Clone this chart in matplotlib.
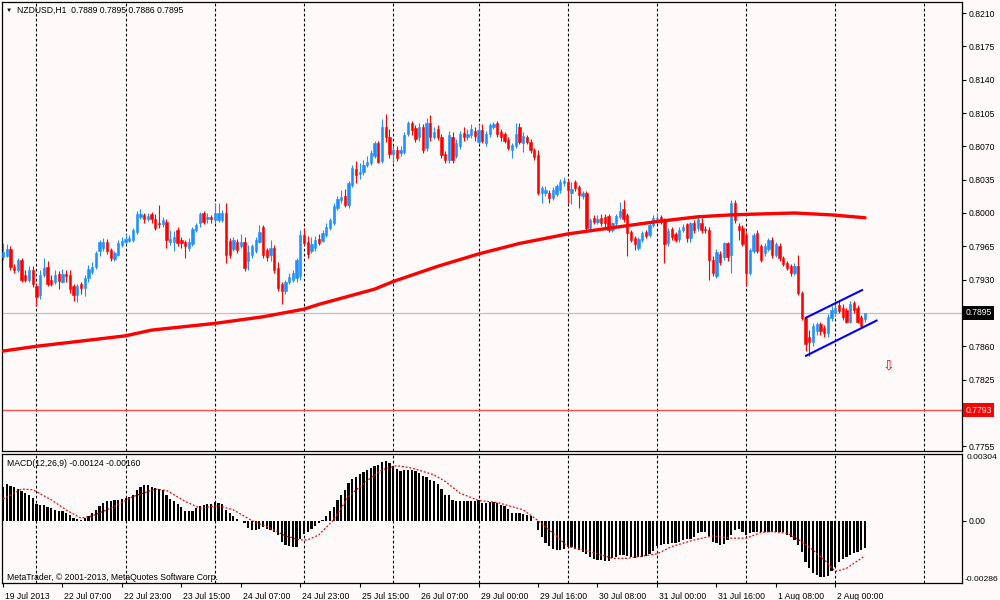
import matplotlib
matplotlib.use("Agg")
import matplotlib.pyplot as plt
import matplotlib.transforms as mtransforms
import numpy as np

plt.rcParams.update({
    "font.family": ["Liberation Sans", "DejaVu Sans"],
    "font.size": 6.2,
    "figure.facecolor": "#fffafa",
    "axes.facecolor": "#fffafa",
    "savefig.facecolor": "#fffafa",
    "axes.edgecolor": "black",
})

# NZDUSD H1, 19 Jul 2013 14:00 .. 2 Aug 2013 08:00, prices in pips (x 1e-4)
opens = [
    7954, 7955, 7962, 7943, 7940, 7951, 7935, 7930, 7940, 7923,
    7914, 7935, 7943, 7930, 7928, 7936, 7928, 7936, 7935, 7923,
    7914, 7925, 7921, 7932, 7938, 7943, 7960, 7963, 7970, 7961,
    7952, 7956, 7966, 7969, 7971, 7972, 7980, 7996, 7998, 7994,
    7999, 7994, 7990, 7988, 7991, 7970, 7970, 7982, 7972, 7970,
    7963, 7967, 7982, 7989, 8000, 7994, 7996, 7993, 7993, 7993,
    8000, 7971, 7962, 7970, 7965, 7970, 7950, 7956, 7960, 7970,
    7985, 7961, 7956, 7963, 7942, 7925, 7918, 7927, 7930, 7932,
    7934, 7977, 7970, 7960, 7963, 7973, 7971, 7977, 7984, 7989,
    8005, 8014, 8018, 8008, 8029, 8046, 8041, 8043, 8050, 8052,
    8060, 8073, 8055, 8090, 8080, 8062, 8066, 8063, 8064, 8083,
    8094, 8089, 8080, 8090, 8068, 8094, 8080, 8088, 8080, 8062,
    8056, 8080, 8060, 8070, 8084, 8080, 8082, 8086, 8075, 8087,
    8073, 8083, 8090, 8094, 8085, 8083, 8077, 8066, 8070, 8090,
    8073, 8080, 8075, 8066, 8061, 8021, 8021, 8021, 8016, 8020,
    8024, 8031, 8033, 8021, 8033, 8027, 8018, 8021, 7984, 7995,
    7991, 7995, 7996, 7997, 7982, 7989, 7996, 8004, 7998, 7980,
    7974, 7963, 7972, 7980, 7977, 7987, 7994, 7996, 7993, 7968,
    7983, 7978, 7973, 7982, 7988, 7974, 7989, 7984, 7990, 7983,
    7982, 7951, 7934, 7957, 7954, 7968, 7956, 8010, 7986, 7984,
    7977, 7937, 7960, 7979, 7965, 7958, 7962, 7972, 7956, 7965,
    7953, 7947, 7944, 7937, 7944, 7916, 7890, 7870, 7865, 7876,
    7883, 7879, 7874, 7890, 7895, 7903, 7900, 7898, 7886, 7905,
    7900, 7891, 7889,
]
highs = [
    7968, 7967, 7965, 7946, 7953, 7953, 7940, 7944, 7944, 7925,
    7940, 7953, 7950, 7935, 7940, 7939, 7941, 7940, 7940, 7925,
    7925, 7928, 7935, 7945, 7948, 7960, 7972, 7974, 7973, 7963,
    7960, 7972, 7975, 7978, 7977, 7984, 8002, 8004, 8000, 8000,
    8001, 7999, 8008, 7996, 7994, 7982, 7981, 7985, 7975, 7972,
    7974, 7985, 7990, 8001, 8002, 8000, 7998, 8010, 8011, 8003,
    8011, 7974, 7975, 7973, 7978, 7975, 7966, 7967, 7975, 7987,
    7987, 7963, 7972, 7966, 7948, 7927, 7930, 7937, 7940, 7953,
    7982, 7984, 7976, 7975, 7976, 7978, 7982, 7990, 7995, 8010,
    8018, 8024, 8025, 8034, 8050, 8055, 8052, 8056, 8060, 8066,
    8076, 8076, 8099, 8104, 8088, 8070, 8070, 8070, 8085, 8097,
    8097, 8092, 8095, 8093, 8100, 8103, 8090, 8092, 8083, 8065,
    8086, 8085, 8078, 8086, 8090, 8088, 8093, 8090, 8093, 8093,
    8086, 8095, 8096, 8097, 8088, 8085, 8080, 8074, 8094, 8095,
    8085, 8082, 8078, 8068, 8066, 8028, 8028, 8024, 8027, 8030,
    8036, 8038, 8036, 8033, 8035, 8029, 8023, 8023, 7995, 7998,
    7998, 7999, 7999, 7999, 7991, 7999, 8012, 8014, 8000, 7982,
    7976, 7975, 7981, 7982, 7990, 7998, 8000, 7998, 7995, 7984,
    7985, 7980, 7985, 7988, 7990, 7991, 7993, 7996, 7995, 7986,
    7985, 7955, 7962, 7960, 7970, 7970, 8014, 8014, 7990, 7987,
    7980, 7963, 7979, 7982, 7967, 7968, 7974, 7975, 7970, 7968,
    7955, 7950, 7946, 7947, 7956, 7918, 7892, 7877, 7884, 7886,
    7886, 7882, 7894, 7902, 7904, 7908, 7904, 7900, 7908, 7908,
    7903, 7893, 7895,
]
lows = [
    7951, 7954, 7940, 7937, 7938, 7928, 7927, 7928, 7922, 7902,
    7910, 7933, 7923, 7923, 7925, 7920, 7926, 7928, 7916, 7908,
    7906, 7915, 7913, 7928, 7936, 7941, 7955, 7960, 7957, 7950,
    7950, 7955, 7964, 7967, 7969, 7970, 7978, 7994, 7990, 7992,
    7990, 7982, 7984, 7985, 7963, 7966, 7960, 7965, 7963, 7953,
    7960, 7965, 7980, 7985, 7988, 7990, 7990, 7990, 7991, 7991,
    7947, 7953, 7960, 7958, 7963, 7939, 7940, 7953, 7958, 7968,
    7953, 7950, 7950, 7937, 7918, 7904, 7915, 7925, 7928, 7928,
    7930, 7966, 7953, 7958, 7960, 7966, 7969, 7975, 7982, 7987,
    8003, 8010, 8006, 8005, 8027, 8032, 8036, 8040, 8048, 8050,
    8058, 8052, 8053, 8075, 8058, 8052, 8055, 8060, 8062, 8081,
    8082, 8075, 8076, 8063, 8065, 8076, 8078, 8077, 8058, 8052,
    8053, 8052, 8058, 8067, 8076, 8077, 8079, 8076, 8072, 8073,
    8070, 8080, 8088, 8080, 8076, 8073, 8066, 8058, 8068, 8072,
    8064, 8072, 8063, 8056, 8019, 8010, 8018, 8011, 8014, 8018,
    8021, 8028, 8010, 8009, 8023, 8005, 8015, 7982, 7982, 7988,
    7988, 7986, 7985, 7980, 7980, 7986, 7994, 7991, 7955, 7969,
    7961, 7961, 7970, 7974, 7975, 7985, 7990, 7988, 7947, 7965,
    7972, 7969, 7970, 7980, 7970, 7970, 7979, 7981, 7979, 7979,
    7930, 7934, 7932, 7945, 7951, 7950, 7937, 7990, 7972, 7965,
    7923, 7935, 7958, 7958, 7949, 7955, 7960, 7953, 7954, 7950,
    7944, 7940, 7934, 7935, 7914, 7888, 7855, 7850, 7860, 7872,
    7872, 7870, 7870, 7887, 7892, 7895, 7888, 7884, 7884, 7895,
    7884, 7879, 7886,
]
closes = [
    7959, 7962, 7943, 7940, 7951, 7930, 7930, 7940, 7925, 7912,
    7935, 7942, 7925, 7925, 7935, 7929, 7936, 7934, 7920, 7914,
    7923, 7921, 7932, 7941, 7943, 7958, 7970, 7970, 7960, 7953,
    7958, 7968, 7971, 7973, 7974, 7982, 7999, 7999, 7994, 7997,
    7994, 7984, 7988, 7993, 7972, 7973, 7975, 7968, 7968, 7965,
    7970, 7983, 7987, 7999, 7991, 7996, 7994, 8000, 8000, 8000,
    7956, 7956, 7972, 7961, 7970, 7942, 7959, 7965, 7972, 7980,
    7956, 7954, 7963, 7940, 7921, 7918, 7928, 7933, 7937, 7951,
    7977, 7968, 7957, 7967, 7972, 7968, 7979, 7985, 7993, 8007,
    8015, 8017, 8008, 8031, 8047, 8040, 8043, 8050, 8054, 8063,
    8073, 8054, 8090, 8080, 8062, 8066, 8058, 8066, 8082, 8094,
    8087, 8078, 8090, 8066, 8095, 8080, 8085, 8080, 8061, 8056,
    8082, 8056, 8074, 8083, 8080, 8083, 8088, 8081, 8087, 8076,
    8083, 8092, 8093, 8083, 8080, 8076, 8068, 8071, 8083, 8075,
    8081, 8075, 8066, 8059, 8021, 8026, 8024, 8016, 8024, 8028,
    8033, 8034, 8024, 8025, 8026, 8019, 8021, 7984, 7993, 7991,
    7994, 7989, 7989, 7982, 7989, 7997, 8002, 7994, 7979, 7972,
    7967, 7973, 7979, 7976, 7987, 7995, 7995, 7991, 7967, 7981,
    7975, 7972, 7982, 7985, 7974, 7989, 7982, 7994, 7982, 7982,
    7951, 7937, 7959, 7949, 7968, 7954, 8010, 7993, 7982, 7967,
    7937, 7961, 7977, 7960, 7951, 7965, 7972, 7956, 7967, 7953,
    7946, 7942, 7937, 7944, 7916, 7890, 7862, 7865, 7881, 7883,
    7876, 7874, 7891, 7898, 7900, 7897, 7891, 7886, 7904, 7898,
    7886, 7881, 7895,
]

# 200 period moving average, read at some bars
ma_idx = [0, 9, 20, 33, 40, 57, 70, 81, 85, 100, 105, 117, 128, 139,
          152, 163, 176, 187, 196, 204, 213, 223, 232]
ma_val = [7855, 7860, 7865, 7871, 7877, 7884, 7891, 7899, 7904, 7920, 7928,
          7944, 7957, 7968, 7978, 7984, 7991, 7996, 7998, 7999, 8000, 7998,
          7995]

# MACD(12,26,9) histogram, in 1e-5
macd = [
    152, 167, 159, 153, 144, 133, 126, 118, 103, 77,
    72, 72, 62, 57, 49, 46, 45, 37, 27, 11,
    7, 4, 11, 22, 34, 49, 65, 80, 88, 88,
    92, 95, 98, 103, 106, 118, 138, 153, 161, 164,
    153, 148, 144, 138, 118, 98, 88, 77, 62, 46,
    42, 46, 57, 68, 72, 75, 77, 83, 80, 77,
    49, 34, 22, 7, -4, -9, -34, -45, -45, -39,
    -30, -39, -45, -50, -65, -96, -111, -118, -122, -122,
    -85, -60, -50, -39, -24, -9, 1, 22, 42, 62,
    95, 118, 141, 171, 189, 201, 214, 220, 229, 240,
    251, 255, 266, 270, 263, 251, 235, 225, 229, 232,
    229, 225, 217, 202, 198, 186, 179, 168, 144, 118,
    118, 95, 88, 88, 88, 88, 88, 88, 92, 80,
    80, 83, 83, 80, 72, 65, 52, 34, 34, 34,
    31, 27, 19, 0, -45, -76, -100, -118, -130, -134,
    -134, -130, -122, -122, -130, -134, -141, -152, -167, -176,
    -179, -179, -182, -182, -172, -164, -157, -157, -161, -167,
    -172, -167, -164, -161, -152, -137, -118, -111, -108, -106,
    -100, -100, -96, -88, -85, -85, -76, -57, -50, -50,
    -70, -96, -103, -111, -106, -88, -65, -42, -39, -50,
    -65, -57, -50, -50, -50, -50, -50, -50, -50, -50,
    -54, -65, -76, -88, -111, -141, -187, -218, -237, -248,
    -256, -259, -252, -232, -210, -187, -176, -167, -157, -146,
    -141, -134, -124,
]
sig_idx = [0, 5, 8, 13, 17, 21, 24, 29, 35, 41, 44, 49, 53, 58, 62, 67, 72,
           76, 80, 82, 85, 89, 93, 98, 102, 106, 110, 116, 119, 123, 128, 133,
           140, 144, 148, 152, 158, 164, 168, 171, 176, 180, 186, 191, 196,
           200, 204, 207, 211, 214, 218, 222, 224, 227, 231, 232]
sig_val = [98, 144, 141, 95, 49, 11, 22, 57, 110, 144, 138, 88, 57, 68, 49, 0,
           -34, -70, -88, -88, -65, 4, 110, 183, 232, 251, 240, 209, 179, 125,
           92, 83, 49, 0, -57, -118, -141, -172, -172, -164, -152, -118, -88,
           -70, -80, -80, -54, -50, -57, -85, -134, -194, -232, -218, -172,
           -160]

# channel drawn on 1 Aug (bar, pips)
chan_up = [(216.1, 7890), (231.2, 7919)]
chan_lo = [(216.1, 7850), (235.1, 7887)]
arrow_pt = (238.4, 7840)
bid = 0.7895
level = 0.7793

day_idx = [9, 33, 57, 81, 105, 128, 152, 176, 200, 224, 248]
tick_idx = [0, 16, 32, 48, 64, 80, 96, 112, 128, 144, 160, 176, 192, 208, 224]
tick_lab = ["19 Jul 2013", "22 Jul 07:00", "22 Jul 23:00", "23 Jul 15:00",
            "24 Jul 07:00", "24 Jul 23:00", "25 Jul 15:00", "26 Jul 07:00",
            "29 Jul 00:00", "29 Jul 16:00", "30 Jul 08:00", "31 Jul 00:00",
            "31 Jul 16:00", "1 Aug 08:00", "2 Aug 00:00"]
price_ticks = [0.8210, 0.8175, 0.8140, 0.8105, 0.8070, 0.8035, 0.8000,
               0.7965, 0.7930, 0.7895, 0.7860, 0.7825, 0.7790, 0.7755]

o = np.array(opens) / 1e4
h = np.array(highs) / 1e4
l = np.array(lows) / 1e4
c = np.array(closes) / 1e4
x = np.arange(len(c))

fig = plt.figure(figsize=(10, 6), dpi=100)
ax = fig.add_axes([2 / 1000, 1 - 451 / 600, 960 / 1000, 449 / 600])
ax2 = fig.add_axes([2 / 1000, 1 - 583.3 / 600, 960 / 1000, 129.3 / 600])

for a in (ax, ax2):
    a.set_xlim(-0.27, 258.1)
    for g in day_idx:
        a.axvline(g, color="black", lw=0.8, ls=(0, (2.5, 2)), zorder=1)
    for s in a.spines.values():
        s.set_linewidth(0.9)
    a.yaxis.tick_right()
    a.tick_params(axis="y", direction="out", length=3, width=0.8, pad=2,
                  labelsize=6.2, colors="black")

# candles
up = c >= o
col = np.where(up, "#1e90ff", "#ff0000")
ax.vlines(x, l, h, colors=col, lw=0.8, zorder=3)
ax.bar(x, c - o, bottom=o, width=0.62, color=col, edgecolor=col,
       linewidth=0.4, zorder=4)

ax.plot(ma_idx, np.array(ma_val) / 1e4, color="#ff0000", lw=2.4, zorder=5,
        solid_capstyle="round")

ax.axhline(bid, color="#c0c0c0", lw=0.9, zorder=2)
ax.axhline(level, color="#ff4a4a", lw=1.0, zorder=2)

ax.plot([p[0] for p in chan_up], [p[1] / 1e4 for p in chan_up],
        color="#0000ff", lw=1.5, zorder=6)
ax.plot([p[0] for p in chan_lo], [p[1] / 1e4 for p in chan_lo],
        color="#0000ff", lw=1.5, zorder=6)
ax.text(arrow_pt[0], arrow_pt[1] / 1e4, "⇩", color="#ff0000", fontsize=10,
        ha="center", va="center", family=["DejaVu Sans"], zorder=6)

ax.set_ylim(0.77500, 0.82216)
ax.set_yticks(price_ticks)
# the bid and level boxes sit over these two labels
ax.set_yticklabels(["" if abs(p - bid) < 1e-6 or abs(p - 0.7790) < 1e-6
                    else f"{p:.4f}" for p in price_ticks])
ax.tick_params(axis="x", length=0, labelbottom=False)

ytr = ax.get_yaxis_transform()
for val, fc in ((bid, "black"), (level, "#ff0000")):
    ax.text(1.0035, val, f"{val:.4f}", transform=ytr, color="white",
            fontsize=6.2, ha="left", va="center", zorder=10, clip_on=False,
            bbox=dict(boxstyle="square,pad=0.25", fc=fc, ec="none"))

# MACD
ax2.bar(x, np.array(macd) / 1e5, width=0.6, color="black", zorder=3)
ax2.plot(sig_idx, np.array(sig_val) / 1e5, color="#ff0000", lw=0.9,
         ls=(0, (1.5, 1.5)), zorder=4)
ax2.set_ylim(-0.00286, 0.00304)
ax2.set_yticks([0.0])
ax2.set_yticklabels(["0.00"])
ax2.tick_params(axis="y", pad=2)
ytr2 = ax2.get_yaxis_transform()
ax2.text(1.005, 0.00304, "0.00304", transform=ytr2, fontsize=6.1,
         ha="left", va="top", clip_on=False)
ax2.text(1.003, -0.00286, "-0.00286", transform=ytr2, fontsize=6.1,
         ha="left", va="bottom", clip_on=False)

ax2.set_xticks(tick_idx)
ax2.set_xticklabels(tick_lab)
ax2.tick_params(axis="x", direction="out", length=3, width=0.8, pad=3,
                labelsize=6.2, colors="black")
shift = mtransforms.ScaledTranslation(2 / 100, 0, fig.dpi_scale_trans)
for lab in ax2.get_xticklabels():
    lab.set_horizontalalignment("left")
    lab.set_transform(lab.get_transform() + shift)

fig.text(6 / 1000, 1 - 10 / 600, "▼", fontsize=4.5, va="center")
fig.text(17 / 1000, 1 - 10 / 600,
         "NZDUSD,H1  0.7889 0.7895 0.7886 0.7895", fontsize=6.2, va="center")
fig.text(7 / 1000, 1 - 463 / 600, "MACD(12,26,9) -0.00124 -0.00160",
         fontsize=6.2, va="center")
fig.text(7 / 1000, 1 - 577 / 600,
         "MetaTrader, © 2001-2013, MetaQuotes Software Corp.",
         fontsize=6.2, va="center")

fig.savefig("out.png", dpi=100)
